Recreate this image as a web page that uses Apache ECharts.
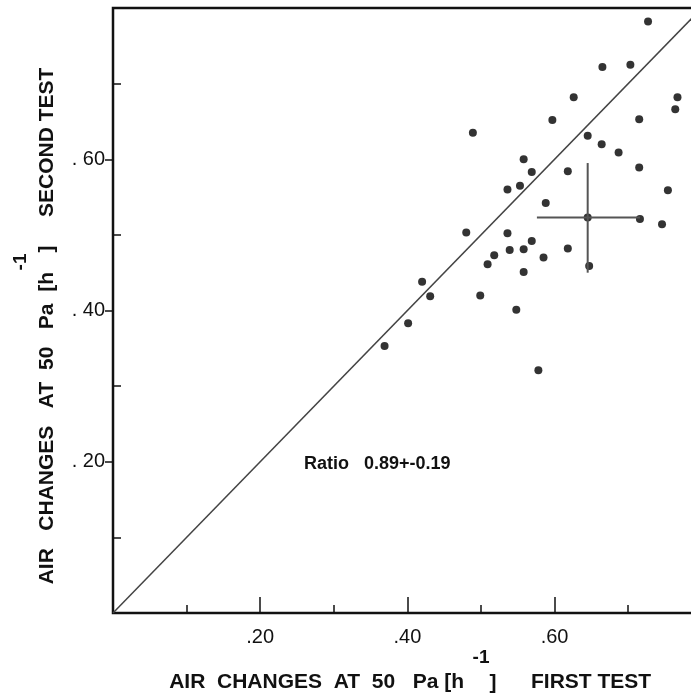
<!DOCTYPE html>
<html>
<head>
<meta charset="utf-8">
<title>Air changes at 50 Pa</title>
<script src="https://cdn.jsdelivr.net/npm/echarts@6/dist/echarts.min.js"></script>
<style>
  html, body { margin: 0; padding: 0; background: #fff; }
  #air-changes { width: 691px; height: 698px; }
</style>
</head>
<body>
<div id="air-changes"></div>
<script>
// air changes at 50 Pa [1/h], first test vs second test
var firstTest = [0.727, 0.665, 0.703, 0.626, 0.767, 0.764, 0.597, 0.715, 0.489, 0.645,
  0.664, 0.687, 0.558, 0.715, 0.569, 0.618, 0.536, 0.553, 0.754, 0.588,
  0.645, 0.716, 0.746, 0.480, 0.536, 0.569, 0.539, 0.558, 0.618, 0.518,
  0.509, 0.585, 0.558, 0.647, 0.420, 0.431, 0.499, 0.548, 0.401, 0.369, 0.578];
var secondTest = [0.782, 0.722, 0.725, 0.682, 0.682, 0.666, 0.652, 0.653, 0.635, 0.631,
  0.620, 0.609, 0.600, 0.589, 0.583, 0.584, 0.560, 0.565, 0.559, 0.542,
  0.523, 0.521, 0.514, 0.503, 0.502, 0.492, 0.480, 0.481, 0.482, 0.473,
  0.461, 0.470, 0.451, 0.459, 0.438, 0.419, 0.420, 0.401, 0.383, 0.353, 0.321];

// mean and spread (the cross)
var meanPoint = [0.645, 0.523];
var spreadX = [0.576, 0.716];
var spreadY = [0.450, 0.595];

// line of equal values
var equalLine = [0, 0.8];

var majorTicks = [0.2, 0.4, 0.6];
var minorTicks = [0.1, 0.3, 0.5, 0.7];
var ratioText = "Ratio   0.89+-0.19";

var ink = "#111";
var font = '"Liberation Sans", Arial, sans-serif';

var points = [];
for (var i = 0; i < firstTest.length; i++) {
  points.push([firstTest[i], secondTest[i]]);
}

function tickLabel(v) {
  return "." + Math.round(v * 100);
}

var chart = echarts.init(document.getElementById("air-changes"));

var option = {
  animation: false,
  backgroundColor: "#fff",
  grid: {
    left: 113,
    top: 8,
    right: -3.4,
    bottom: 85,
    containLabel: false,
    outerBoundsMode: "none",
    show: true,
    borderColor: ink,
    borderWidth: 2.5,
    backgroundColor: "transparent"
  },
  xAxis: [
    {
      type: "value",
      min: 0,
      max: 0.79,
      position: "bottom",
      axisLine: { lineStyle: { color: ink, width: 2 } },
      axisTick: { inside: true, length: 16, customValues: majorTicks, lineStyle: { color: ink, width: 1.5 } },
      axisLabel: {
        customValues: majorTicks,
        formatter: tickLabel,
        margin: 14,
        color: ink,
        fontSize: 20,
        fontFamily: font
      },
      splitLine: { show: false }
    },
    {
      type: "value",
      min: 0,
      max: 0.79,
      position: "bottom",
      axisLine: { show: false },
      axisTick: { inside: true, length: 8, customValues: minorTicks, lineStyle: { color: ink, width: 1.5 } },
      axisLabel: { show: false },
      splitLine: { show: false }
    }
  ],
  yAxis: [
    {
      type: "value",
      min: 0,
      max: 0.8,
      position: "left",
      axisLine: { lineStyle: { color: ink, width: 2 } },
      axisTick: { inside: false, length: 8, customValues: majorTicks, lineStyle: { color: ink, width: 1.5 } },
      axisLabel: {
        customValues: majorTicks,
        formatter: function (v) {
          return ". " + Math.round(v * 100);
        },
        margin: 8,
        color: ink,
        fontSize: 20,
        fontFamily: font
      },
      splitLine: { show: false }
    },
    {
      type: "value",
      min: 0,
      max: 0.8,
      position: "left",
      axisLine: { show: false },
      axisTick: { inside: true, length: 8, customValues: minorTicks, lineStyle: { color: ink, width: 1.5 } },
      axisLabel: { show: false },
      splitLine: { show: false }
    }
  ],
  series: [
    {
      type: "line",
      data: [[equalLine[0], equalLine[0]], [equalLine[1], equalLine[1]]],
      symbol: "none",
      clip: true,
      lineStyle: { color: "#444", width: 1.5 },
      silent: true
    },
    {
      type: "line",
      data: [[spreadX[0], meanPoint[1]], [spreadX[1], meanPoint[1]]],
      symbol: "none",
      lineStyle: { color: "#555", width: 2 },
      silent: true
    },
    {
      type: "line",
      data: [[meanPoint[0], spreadY[0]], [meanPoint[0], spreadY[1]]],
      symbol: "none",
      lineStyle: { color: "#555", width: 2 },
      silent: true
    },
    {
      type: "scatter",
      data: points,
      symbol: "circle",
      symbolSize: 8,
      itemStyle: { color: "#000" }
    }
  ],
  graphic: [
    {
      type: "text", x: 304, y: 464,
      style: { text: ratioText, font: "bold 18px " + font, fill: ink, align: "left", verticalAlign: "middle" }
    },
    // x axis title
    {
      type: "text", x: 464, y: 682,
      style: { text: "AIR  CHANGES  AT  50   Pa [h", font: "bold 21px " + font, fill: ink, align: "right", verticalAlign: "middle" }
    },
    {
      type: "text", x: 493, y: 683,
      style: { text: "]", font: "bold 21px " + font, fill: ink, align: "center", verticalAlign: "middle" }
    },
    {
      type: "text", x: 481, y: 658,
      style: { text: "-1", font: "bold 19px " + font, fill: ink, align: "center", verticalAlign: "middle" }
    },
    {
      type: "text", x: 531, y: 682,
      style: { text: "FIRST TEST", font: "bold 21px " + font, fill: ink, align: "left", verticalAlign: "middle" }
    },
    // y axis title
    {
      type: "text", x: 47, y: 272, rotation: Math.PI / 2,
      style: { text: "AIR   CHANGES   AT  50   Pa  [h", font: "bold 21px " + font, fill: ink, align: "right", verticalAlign: "middle" }
    },
    {
      type: "text", x: 47, y: 249, rotation: Math.PI / 2,
      style: { text: "]", font: "bold 21px " + font, fill: ink, align: "center", verticalAlign: "middle" }
    },
    {
      type: "text", x: 21, y: 262, rotation: Math.PI / 2,
      style: { text: "-1", font: "bold 19px " + font, fill: ink, align: "center", verticalAlign: "middle" }
    },
    {
      type: "text", x: 47, y: 217, rotation: Math.PI / 2,
      style: { text: "SECOND TEST", font: "bold 21px " + font, fill: ink, align: "left", verticalAlign: "middle" }
    }
  ]
};

chart.setOption(option);
window.addEventListener("resize", function () {
  chart.resize();
});
</script>
</body>
</html>
